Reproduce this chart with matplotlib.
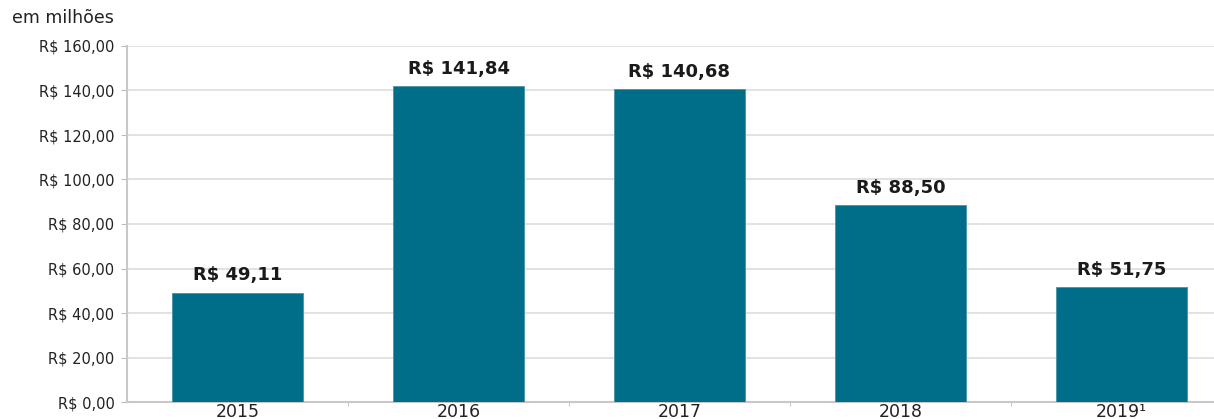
import matplotlib
matplotlib.use("Agg")
import matplotlib.pyplot as plt
from matplotlib.ticker import FixedLocator

years = ["2015", "2016", "2017", "2018", "2019¹"]
values = [49.11, 141.84, 140.68, 88.50, 51.75]
value_labels = ["R$ 49,11", "R$ 141,84", "R$ 140,68", "R$ 88,50", "R$ 51,75"]
yticks = [0, 20, 40, 60, 80, 100, 120, 140, 160]
ytick_labels = ["R$ 0,00", "R$ 20,00", "R$ 40,00", "R$ 60,00", "R$ 80,00",
                "R$ 100,00", "R$ 120,00", "R$ 140,00", "R$ 160,00"]

plt.rcParams['font.family'] = ['DejaVu Sans']

W, H = 1214, 419
fig = plt.figure(figsize=(W/100, H/100), dpi=100)
left = 127 / W
bottom = (H - 402) / H
top = (H - 46) / H
ax = fig.add_axes([left, bottom, 1 - left, top - bottom])

bar_color = "#016E89"
x = list(range(len(years)))
ax.bar(x, values, width=0.59, color=bar_color, edgecolor="#4A93A8", linewidth=0.6, zorder=3)

for xi, v, lab in zip(x, values, value_labels):
    ax.annotate(lab, (xi, v), xytext=(0, 6), textcoords="offset points",
                ha="center", va="bottom", fontsize=13, fontweight="bold", color="#1a1a1a")

ax.set_ylim(0, 160)
ax.set_xlim(-0.5, (W - 127) / 221 - 0.5)
ax.set_yticks(yticks)
ax.set_yticklabels(ytick_labels, fontsize=10.5, color="#222222")
ax.set_xticks(x)
ax.set_xticklabels(years, fontsize=12.5, color="#222222")
ax.tick_params(axis="x", length=0, pad=1)
ax.xaxis.set_minor_locator(FixedLocator([0.5, 1.5, 2.5, 3.5]))
ax.tick_params(axis="x", which="minor", length=3, color="#BBBBBB")
ax.tick_params(axis="y", length=4, color="#BBBBBB", pad=5)

ax.grid(axis="y", color="#DDDDDD", linewidth=1.2, zorder=0)
ax.set_axisbelow(True)
for s in ["top", "right"]:
    ax.spines[s].set_visible(False)
for s in ["left", "bottom"]:
    ax.spines[s].set_color("#C8C8C8")
    ax.spines[s].set_linewidth(1.5)

fig.text(12 / W, 1 - 18 / H, "em milhões", fontsize=12.5, color="#222222", ha="left", va="center")

fig.savefig("out.png", dpi=100)
